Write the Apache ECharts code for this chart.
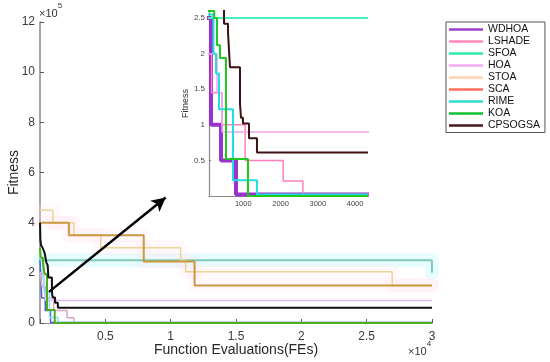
<!DOCTYPE html>
<html>
<head>
<meta charset="utf-8">
<script src="https://cdn.jsdelivr.net/npm/echarts@6/dist/echarts.min.js"></script>
<style>html,body{margin:0;padding:0;background:#fff}#c{width:550px;height:362px}</style>
</head>
<body>
<div id="c"></div>
<script>
// Fitness values in units of 1e5, FEs in raw evaluations: [FE, fitness]
const algorithms = ['WDHOA','LSHADE','SFOA','HOA','STOA','SCA','RIME','KOA','CPSOGSA'];
const WDHOA   = [[1,2.5],[134,1.0],[402,0.5],[804,0.02],[30000,0.02]];
const LSHADE  = [[1,2.0],[150,1.45],[430,1.0],[1050,0.5],[2070,0.21],[2600,0.02],[30000,0.02]];
const SFOA    = [[1,2.5],[29990,2.5],[30000,2.0]];
const HOA     = [[1,2.0],[295,1.45],[430,0.9],[30000,0.9]];
const STOA    = [[1,4.5],[990,4.0],[2600,3.5],[4650,3.0],[10760,2.5],[11150,2.04],[26950,1.5],[30000,1.5]];
const SCA     = [[1,4.0],[2210,3.5],[7940,2.45],[11830,1.5],[30000,1.5]];
const RIME    = [[1,2.55],[200,2.0],[268,1.72],[349,1.22],[724,0.22],[1367,0.02],[30000,0.02]];
const KOA     = [[1,3.0],[60,2.6],[220,2.5],[295,2.12],[375,1.94],[536,0.52],[1126,0.0],[30000,0.0]];
const CPSOGSA = [[1,4.0],[30,3.3],[80,3.1],[200,3.0],[350,2.8],[483,2.42],[590,2.3],[643,1.81],[912,1.3],[938,1.1],[992,1.02],[1153,0.81],[1367,0.61],[30000,0.61]];
const mainYTicks = [0,2,4,6,8,10,12];
const mainXTickLabels = ['0.5','1','1.5','2','2.5','3'];
const insetXTicks = [1000,2000,3000,4000];
const insetYTicks = [0.5,1,1.5,2,2.5];
const arrowStart = [687, 1.24];
const arrowEnd = [9618, 5.0];

const dataMap = {WDHOA, LSHADE, SFOA, HOA, STOA, SCA, RIME, KOA, CPSOGSA};
const mainStyle = {
  WDHOA:  {c:'#4a62d6', w:1.5},
  LSHADE: {c:'#dca6cc', w:1.5},
  SFOA:   {c:'#80cbb8', w:2,   glow:'rgba(185,248,252,0.35)'},
  HOA:    {c:'#dcbcf2', w:1.5},
  STOA:   {c:'#ecd590', w:1.5, glow:'rgba(255,222,242,0.22)'},
  SCA:    {c:'#c9983f', w:2,   glow:'rgba(255,222,242,0.22)'},
  RIME:   {c:'#90dff0', w:1.5},
  KOA:    {c:'#4aae1e', w:2},
  CPSOGSA:{c:'#111111', w:2}
};
const insetStyle = {
  WDHOA:  {c:'#9a32cc', w:4},
  LSHADE: {c:'#ff80be', w:1.5},
  SFOA:   {c:'#44f0c4', w:2},
  HOA:    {c:'#f2a2f0', w:1.5},
  STOA:   {c:'#f5cfa0', w:1.5},
  SCA:    {c:'#ff7060', w:1.5},
  RIME:   {c:'#1fdfe0', w:2},
  KOA:    {c:'#1ec81e', w:2},
  CPSOGSA:{c:'#3a1212', w:2}
};
const legendColors = {
  WDHOA:'#a040c8', LSHADE:'#ff8ab8', SFOA:'#30eca8', HOA:'#f4aaf0', STOA:'#ffd2b4',
  SCA:'#ff6e5c', RIME:'#2edcd0', KOA:'#10c030', CPSOGSA:'#4a1818'
};

const FONT = '"Liberation Sans", Arial, sans-serif';
const series = [];
// soft halo underneath some main-plot lines
algorithms.forEach(name => {
  const ms = mainStyle[name];
  if (!ms.glow) return;
  series.push({
    name, type:'line', step:'end', xAxisIndex:0, yAxisIndex:0, z:1,
    data: dataMap[name], showSymbol:false, symbol:'none', animation:false, silent:true,
    lineStyle:{color:ms.glow, width:14, cap:'round', join:'round'},
    emphasis:{disabled:true}
  });
});
algorithms.forEach(name => {
  const ms = mainStyle[name];
  series.push({
    name, type:'line', step:'end', xAxisIndex:0, yAxisIndex:0, z:2,
    data: dataMap[name], showSymbol:false, symbol:'none', animation:false,
    lineStyle:{color:ms.c, width:ms.w},
    itemStyle:{color:ms.c}, emphasis:{disabled:true}
  });
});
algorithms.forEach(name => {
  const is = insetStyle[name];
  series.push({
    name, type:'line', step:'end', xAxisIndex:1, yAxisIndex:1, z:3,
    data: dataMap[name], showSymbol:false, symbol:'none', animation:false, clip:true,
    lineStyle:{color:is.c, width:is.w},
    itemStyle:{color:is.c}, emphasis:{disabled:true}
  });
});
series.push({
  name:'arrow', type:'line', xAxisIndex:0, yAxisIndex:0, data:[], animation:false, z:4,
  markLine:{
    silent:true, animation:false, symbol:['none','arrow'], symbolSize:[11,14],
    label:{show:false},
    lineStyle:{color:'#000', width:2.5, type:'solid'},
    data:[[{coord:arrowStart},{coord:arrowEnd}]]
  }
});

const chart = echarts.init(document.getElementById('c'), null, {renderer:'canvas'});
chart.setOption({
  backgroundColor:'#fff',
  animation:false,
  textStyle:{fontFamily:FONT},
  grid:[
    {left:40, top:22, width:392, height:301, outerBoundsMode:'none', containLabel:false},
    {left:209, top:11, width:158, height:185, outerBoundsMode:'none', containLabel:false}
  ],
  xAxis:[
    {type:'value', gridIndex:0, min:0, max:30000, interval:5000,
     axisLine:{show:true, lineStyle:{color:'#8a8a8a', width:1.2}},
     axisTick:{show:true, inside:true, length:4, lineStyle:{color:'#555'}},
     axisLabel:{color:'#3a3a3a', fontSize:12, fontFamily:FONT, margin:8,
       formatter: v => v === 0 ? '' : mainXTickLabels[Math.round(v/5000)-1]},
     splitLine:{show:false},
     name:'Function Evaluations(FEs)', nameLocation:'middle', nameGap:20, nameMoveOverlap:false,
     nameTextStyle:{color:'#262626', fontSize:14, fontFamily:FONT}},
    {type:'value', gridIndex:1, min:80, max:4320,
     axisLine:{show:true, lineStyle:{color:'#8a8a8a', width:1.2}},
     axisTick:{show:true, inside:true, length:2, customValues:insetXTicks, lineStyle:{color:'#777'}},
     axisLabel:{color:'#444', fontSize:7.5, fontFamily:FONT, margin:4, customValues:insetXTicks,
       formatter: v => String(v)},
     splitLine:{show:false}}
  ],
  yAxis:[
    {type:'value', gridIndex:0, min:0, max:12, interval:2,
     axisLine:{show:true, lineStyle:{color:'#8a8a8a', width:1.5}},
     axisTick:{show:true, inside:true, length:4, lineStyle:{color:'#555'}},
     axisLabel:{color:'#3a3a3a', fontSize:12, fontFamily:FONT, margin:5,
       formatter: v => String(mainYTicks[Math.round(v/2)])},
     splitLine:{show:false},
     name:'Fitness', nameLocation:'middle', nameGap:19, nameMoveOverlap:false,
     nameTextStyle:{color:'#262626', fontSize:14, fontFamily:FONT}},
    {type:'value', gridIndex:1, min:0, max:2.6,
     axisLine:{show:true, lineStyle:{color:'#8a8a8a', width:1.2}},
     axisTick:{show:true, inside:true, length:2, customValues:insetYTicks, lineStyle:{color:'#777'}},
     axisLabel:{color:'#444', fontSize:8, fontFamily:FONT, margin:4, customValues:insetYTicks,
       formatter: v => String(v)},
     splitLine:{show:false},
     name:'Fitness', nameLocation:'middle', nameGap:19, nameMoveOverlap:false,
     nameTextStyle:{color:'#333', fontSize:9, fontFamily:FONT}}
  ],
  legend:{
    orient:'vertical', left:446, top:22,
    padding:[1.5,5,1,3], itemGap:0, itemWidth:34, itemHeight:2.5,
    borderColor:'#555', borderWidth:1, backgroundColor:'#fff',
    icon:'rect', selectedMode:false,
    textStyle:{fontSize:10.5, fontFamily:FONT, color:'#111', lineHeight:12},
    data: algorithms.map(n => ({name:n, icon:'rect', itemStyle:{color:legendColors[n]}, lineStyle:{color:legendColors[n]}}))
  },
  graphic:[
    {type:'text', left:39, top:2, style:{
      text:'{a|×10}{b|5}', rich:{a:{fontSize:11, fontFamily:FONT, fill:'#333', verticalAlign:'bottom', padding:[6,0,0,0]}, b:{fontSize:8, fontFamily:FONT, fill:'#333', verticalAlign:'top'}}}},
    {type:'text', left:408, top:340, style:{
      text:'{a|×10}{b|4}', rich:{a:{fontSize:11, fontFamily:FONT, fill:'#333', verticalAlign:'bottom', padding:[6,0,0,0]}, b:{fontSize:8, fontFamily:FONT, fill:'#333', verticalAlign:'top'}}}}
  ],
  series
});
</script>
</body>
</html>
